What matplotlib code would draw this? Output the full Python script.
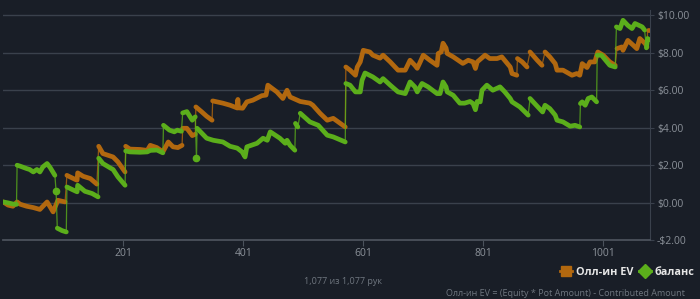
import matplotlib
matplotlib.use("Agg")
import matplotlib.pyplot as plt
from matplotlib.lines import Line2D

plt.rcParams['font.family'] = ['Open Sans', 'DejaVu Sans']

# All-in EV series (hand number, dollars)
ev_hands = [1, 9, 17, 24, 29, 40, 51, 62, 74, 79, 84, 92, 104,
            107, 112, 121, 124,
            125, 134, 146, 157,
            160, 167, 184, 192, 204,
            205, 212, 229, 241, 246, 257, 267, 276, 284, 292, 299,
            300, 307, 316, 321,
            322, 332, 340, 349,
            350, 367, 379, 391, 392, 393, 400, 407, 417, 432, 439, 442, 457, 467,
            474, 479, 496, 512, 517, 529, 541, 551, 571,
            572, 579, 588, 591, 596, 601, 612, 617, 629, 634, 646, 659, 671, 679,
            687, 691, 696, 701, 712, 724, 726, 731, 734, 739, 741, 751, 767, 776,
            784, 788, 791, 804, 812, 824, 832, 846, 849, 857,
            858, 866, 874,
            879, 891, 899,
            904, 912, 921, 924, 934, 949, 957, 962, 966, 974, 979, 987, 992, 1001,
            1012, 1021,
            1024, 1032, 1034, 1042, 1051, 1057, 1062, 1071, 1074,
            1075, 1077]
ev_values = [0.03, -0.14, -0.2, 0.03, -0.09, -0.2, -0.27, -0.37, 0.03, -0.23, -0.5, 0.12, 0.03,
             1.45, 1.37, 1.23, 1.19,
             1.58, 1.4, 1.28, 0.98,
             3.0, 2.61, 2.43, 2.17, 1.63,
             3.0, 2.85, 2.83, 2.78, 3.05, 2.93, 2.7, 3.23, 2.97, 2.93, 3.05,
             3.96, 3.96, 3.57, 3.64,
             5.1, 4.83, 4.6, 4.39,
             5.42, 5.3, 5.19, 5.04, 5.5, 5.05, 5.03, 5.37, 5.46, 5.7, 5.73, 6.26, 5.9, 5.55,
             5.99, 5.63, 5.39, 5.3, 5.19, 4.76, 4.39, 4.49, 4.03,
             7.23, 7.06, 6.79, 7.23, 7.5, 8.12, 8.03, 7.86, 7.7, 7.86, 7.5, 7.06, 7.06, 7.59,
             7.32, 7.16, 7.5, 7.86, 7.59, 7.32, 7.95, 8.03, 8.5, 8.24, 7.95, 7.77, 7.42, 7.59,
             7.5, 7.15, 7.5, 7.86, 7.68, 7.68, 7.77, 7.23, 6.88, 6.79,
             7.68, 7.5, 7.23,
             8.03, 7.59, 7.32,
             8.03, 7.77, 7.41, 7.06, 7.06, 6.79, 6.88, 6.79, 7.41, 7.2, 7.5, 7.5, 8.03, 7.86,
             7.5, 7.32,
             8.21, 8.3, 8.12, 8.65, 8.39, 8.21, 8.75, 8.48, 8.3,
             9.19, 9.19]

# balance series
bal_hands = [1, 9, 17, 23,
             24, 29, 40, 45, 51, 57, 62, 67, 74, 79, 87,
             89,
             91, 99, 106,
             107, 116, 124,
             125, 137, 149, 159,
             160, 167, 179, 184, 192, 204,
             205, 212, 229, 241, 246, 257, 267,
             268, 278, 286, 291, 298,
             300, 307, 316, 321,
             323,
             324, 340, 351, 367, 379, 391, 399, 404,
             407, 424, 434, 441, 446, 462, 471, 474, 479, 487,
             488, 492,
             496, 512, 526, 541, 551, 571,
             572, 579, 588, 596, 599, 604, 617, 629, 634, 646, 659, 671, 679, 687, 691,
             699, 709, 724, 729, 734, 739, 741, 751, 762, 770, 779, 784, 788, 791, 796,
             799, 807, 817, 829, 837, 846, 849, 862, 876,
             879, 892, 900, 904, 912, 921, 924, 934, 946, 954, 962,
             963, 966, 971, 976, 982, 990,
             991, 998, 1012, 1021,
             1023, 1029, 1034, 1042, 1049, 1054, 1066, 1070,
             1073, 1075, 1077]
bal_values = [0.03, -0.02, -0.08, -0.1,
              1.99, 1.94, 1.81, 1.76, 1.63, 1.76, 1.63, 1.9, 2.08, 1.87, 1.45,
              0.6,
              -1.37, -1.5, -1.57,
              0.83, 0.69, 0.57,
              0.92, 0.6, 0.48, 0.3,
              2.36, 2.08, 1.85, 1.76, 1.37, 0.92,
              2.75, 2.7, 2.68, 2.7, 2.78, 2.8, 2.65,
              4.12, 3.86, 3.77, 3.86, 3.8,
              4.78, 4.85, 4.39, 4.57,
              2.38,
              3.96, 3.43, 3.32, 3.23, 3.0, 2.9, 2.7, 2.43,
              2.97, 3.16, 3.43, 3.32, 3.77, 3.43, 3.16, 3.32, 3.05, 2.79,
              4.22, 4.03,
              4.76, 4.3, 4.12, 3.59, 3.5, 3.23,
              6.35, 6.26, 5.9, 5.9, 6.52, 6.91, 6.7, 6.43, 6.61, 6.26, 5.9, 5.81, 6.43, 6.17, 5.9,
              6.35, 6.17, 5.81, 5.81, 6.43, 6.17, 5.9, 5.72, 5.3, 5.3, 5.39, 5.28, 4.95, 5.39, 5.37,
              5.99, 6.26, 5.99, 6.17, 5.9, 5.55, 5.37, 5.1, 4.66,
              5.55, 5.1, 4.83, 5.19, 5.01, 4.66, 4.39, 4.3, 4.07, 4.12, 4.03,
              5.28, 5.37, 5.19, 5.55, 5.63, 5.37,
              7.86, 7.86, 7.32, 7.23,
              9.37, 9.28, 9.72, 9.45, 9.28, 9.55, 9.37, 9.2,
              8.25, 8.75, 8.7]

y_ticks = [-2, 0, 2, 4, 6, 8, 10]
x_ticks = [201, 401, 601, 801, 1001]

bg = '#191e27'
grid_col = '#3a414c'
label_col = '#8b9199'
ev_col = '#b2680f'
bal_col = '#5bae1b'


def split_runs(hands, values, jump=0.7):
    # break the line wherever the value jumps (drawn thin in the original)
    runs = [[0]]
    for i in range(1, len(values)):
        if abs(values[i] - values[i - 1]) > jump:
            runs.append([i])
        else:
            runs[-1].append(i)
    return runs


def draw_series(ax, hands, values, color, z):
    ax.plot(hands, values, color=color, lw=0.9, alpha=0.8, zorder=z)
    for run in split_runs(hands, values):
        xs = [hands[i] for i in run]
        ys = [values[i] for i in run]
        if len(run) == 1:
            ax.plot(xs, ys, 'o', ms=4.5, color=color, zorder=z + 0.5)
        else:
            ax.plot(xs, ys, color=color, lw=3.4, solid_capstyle='round',
                    solid_joinstyle='round', zorder=z + 0.5)


fig = plt.figure(figsize=(7, 2.99), dpi=100, facecolor=bg)
ax = fig.add_axes([3 / 700, 59 / 299, 647 / 700, 230 / 299])
ax.set_facecolor(bg)

draw_series(ax, ev_hands, ev_values, ev_col, 3)
draw_series(ax, bal_hands, bal_values, bal_col, 4)

ax.set_xlim(0.5, 1079)
ax.set_ylim(-2, 10.27)
ax.set_yticks(y_ticks)
ax.set_yticklabels([('-$%.2f' % abs(t)) if t < 0 else ('$%.2f' % t) for t in y_ticks])
ax.set_xticks(x_ticks)
ax.set_xticklabels([str(t) for t in x_ticks])
ax.yaxis.tick_right()
ax.tick_params(axis='y', colors=grid_col, labelcolor=label_col, labelsize=7.5, length=3, pad=2)
ax.tick_params(axis='x', colors='#4b525c', labelcolor=label_col, labelsize=7.5, length=4, pad=2)
for t in y_ticks[1:]:
    ax.axhline(t, color=grid_col, lw=1, zorder=1)
for side in ['left', 'top']:
    ax.spines[side].set_visible(False)
ax.spines['right'].set_color(grid_col)
ax.spines['bottom'].set_color('#4b525c')
ax.spines['bottom'].set_linewidth(1.3)

handles = [Line2D([], [], color=ev_col, lw=2, marker='s', ms=7),
           Line2D([], [], color=bal_col, lw=2, marker='D', ms=7)]
leg = fig.legend(handles, ['Олл-ин EV', 'баланс'], loc='center right',
                 bbox_to_anchor=(1.0, 0.09), ncol=2, frameon=False,
                 borderaxespad=0.1, handlelength=1.1, handletextpad=0.35,
                 columnspacing=0.5, prop={'size': 7.8, 'weight': 'bold'})
for txt in leg.get_texts():
    txt.set_color('#e6e6e6')

fig.text(343 / 700, 1 - 282 / 299, '1,077 из 1,077 рук', color='#6f767f',
         fontsize=6.5, ha='center', va='center')
fig.text(685 / 700, 1 - 289 / 299, 'Олл-ин EV = (Equity * Pot Amount) - Contributed Amount',
         color='#6f767f', fontsize=6.5, ha='right', va='top')

fig.savefig('out.png', dpi=100, facecolor=bg)
